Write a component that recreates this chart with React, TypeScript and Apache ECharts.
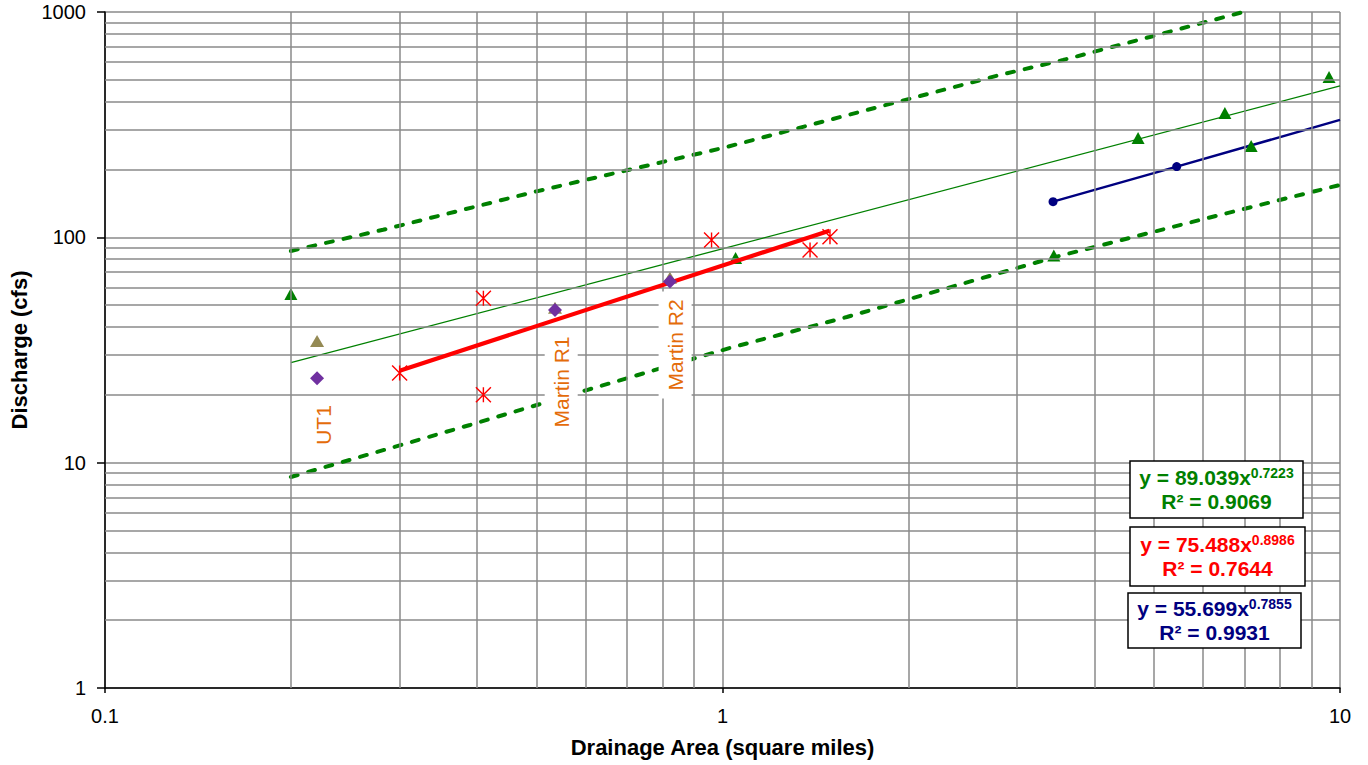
import { useEffect, useRef } from 'react';
import * as echarts from 'echarts';

const FONT = "'Liberation Sans', Arial, Helvetica, sans-serif";

// minor grid positions (log decades)
const xGridMinor = [0.2, 0.3, 0.4, 0.5, 0.6, 0.7, 0.8, 0.9, 2, 3, 4, 5, 6, 7, 8, 9];
const yGridMinor = [2, 3, 4, 5, 6, 7, 8, 9, 20, 30, 40, 50, 60, 70, 80, 90, 200, 300, 400, 500, 600, 700, 800, 900];

// Regional curve data (green triangles)
const regionalArea = [0.2, 1.05, 3.44, 4.71, 6.51, 7.18, 9.6];
const regionalQ = [56, 81, 83, 276, 356, 254, 515];

// Project reaches (tan triangles, purple diamonds)
const reachArea = [0.2205, 0.5355, 0.822];
const reachQTan = [34.7, 48.7, 66.2];
const reachQPurple = [23.7, 47.6, 63.6];

// Red asterisk data
const redArea = [0.3, 0.41, 0.41, 0.96, 1.386, 1.493];
const redQ = [25.0, 53.6, 20.0, 97.3, 87.9, 100.7];

// Blue dots
const blueArea = [3.43, 5.44];
const blueQ = [144, 206];

// Fit lines (power laws are straight in log-log)
const greenFitArea = [0.2, 10];
const greenFitQ = [27.8, 470];
const redFitArea = [0.3, 1.49];
const redFitQ = [25.6, 107];
const blueFitArea = [3.43, 5.44, 10];
const blueFitQ = [144, 206, 332];

// Prediction bands (dashed)
const upperArea = [0.2, 0.282, 0.5, 1, 2.81, 3.56, 4.92, 6.97];
const upperQ = [87, 108, 160, 249, 525, 612, 775, 1000];
const lowerArea = [0.2, 0.39, 0.603, 1.028, 1.59, 3.46, 5.93, 10];
const lowerQ = [8.64, 14.7, 21.0, 32.3, 44.3, 81.8, 119.4, 170.8];

// Reach labels
const reachNames = ['UT1', 'Martin R1', 'Martin R2'];
const reachLabelArea = [0.2255, 0.548, 0.838];
const reachLabelQ = [14.7, 22.8, 33.3];
const reachLabelBoxed = [false, true, true];

const fitEquations = [
  { coef: '89.039', exp: '0.7223', r2: '0.9069', color: '#008000' },
  { coef: '75.488', exp: '0.8986', r2: '0.7644', color: '#FF0000' },
  { coef: '55.699', exp: '0.7855', r2: '0.9931', color: '#000080' },
];

const zip = (a: number[], b: number[]) => a.map((v, i) => [v, b[i]]);
const fmt = (v: number) => String(parseFloat(Number(v).toPrecision(4)));

const GRID_COLOR = '#8a8a8a';

export default function App() {
  const ref = useRef<HTMLDivElement>(null);
  useEffect(() => {
    if (!ref.current) return;
    const chart = echarts.init(ref.current, undefined, { renderer: 'svg' });

    const boxes = [
      { x: 1130, y: 461, w: 173, h: 57 },
      { x: 1130, y: 527, w: 175, h: 59 },
      { x: 1128, y: 593, w: 173, h: 55 },
    ];
    const graphicEls: any[] = [];
    fitEquations.forEach((eq, i) => {
      const b = boxes[i];
      graphicEls.push({
        type: 'rect',
        shape: { x: b.x, y: b.y, width: b.w, height: b.h },
        style: { fill: '#fff', stroke: '#000', lineWidth: 1.5 },
        z: 100,
      });
      graphicEls.push({
        type: 'text',
        x: b.x + b.w / 2,
        y: b.y + b.h / 2,
        z: 101,
        style: {
          text: `{a|y = ${eq.coef}x}{s|${eq.exp}}\n{a|R² = ${eq.r2}}`,
          align: 'center',
          verticalAlign: 'middle',
          fill: eq.color,
          rich: {
            a: { fontSize: 21, fontWeight: 'bold', fontFamily: FONT, fill: eq.color, lineHeight: 24 },
            s: { fontSize: 14, fontWeight: 'bold', fontFamily: FONT, fill: eq.color, lineHeight: 14, verticalAlign: 'top' },
          },
        },
      });
    });

    const scatterBase = { itemStyle: { opacity: 1 }, emphasis: { disabled: true } };

    const option: any = {
      animation: false,
      backgroundColor: '#fff',
      textStyle: { fontFamily: FONT },
      grid: { left: 105, right: 28, top: 12, bottom: 77, containLabel: false },
      xAxis: {
        type: 'log',
        logBase: 10,
        min: 0.1,
        max: 10,
        name: 'Drainage Area (square miles)',
        nameLocation: 'middle',
        nameGap: 48,
        nameTextStyle: { fontSize: 22, fontWeight: 'bold', color: '#000', fontFamily: FONT },
        axisLine: { show: true, onZero: false, lineStyle: { color: '#000', width: 1.5 } },
        axisTick: { show: true, length: 5, lineStyle: { color: '#000', width: 1.5 } },
        axisLabel: { fontSize: 20, color: '#000', margin: 18, formatter: fmt, fontFamily: FONT },
        splitLine: { show: true, lineStyle: { color: GRID_COLOR, width: 1.5 } },
      },
      yAxis: {
        type: 'log',
        logBase: 10,
        min: 1,
        max: 1000,
        name: 'Discharge (cfs)',
        nameLocation: 'middle',
        nameGap: 71,
        nameTextStyle: { fontSize: 22, fontWeight: 'bold', color: '#000', fontFamily: FONT },
        axisLine: { show: true, onZero: false, lineStyle: { color: '#000', width: 1.5 } },
        axisTick: { show: true, length: 8, lineStyle: { color: '#000', width: 1.5 } },
        axisLabel: { fontSize: 20, color: '#000', margin: 19, formatter: fmt, fontFamily: FONT },
        splitLine: { show: true, lineStyle: { color: GRID_COLOR, width: 1.5 } },
      },
      series: [
        {
          type: 'scatter',
          z: 1,
          silent: true,
          symbolSize: 0,
          data: [[1, 10]],
          markLine: {
            silent: true,
            symbol: ['none', 'none'],
            label: { show: false },
            lineStyle: { color: GRID_COLOR, width: 1.5, type: 'solid', opacity: 1 },
            emphasis: { disabled: true },
            data: [
              ...xGridMinor.map((v) => ({ xAxis: v })),
              ...yGridMinor.map((v) => ({ yAxis: v })),
            ],
          },
        },
        {
          type: 'line',
          z: 3,
          data: zip(upperArea, upperQ),
          showSymbol: false,
          symbol: 'none',
          lineStyle: { color: '#008000', width: 4, type: [7, 11], cap: 'round' },
        },
        {
          type: 'line',
          z: 3,
          data: zip(lowerArea, lowerQ),
          showSymbol: false,
          symbol: 'none',
          lineStyle: { color: '#008000', width: 4, type: [7, 11], cap: 'round' },
        },
        {
          type: 'line',
          z: 3,
          data: zip(greenFitArea, greenFitQ),
          symbol: 'none',
          lineStyle: { color: '#008000', width: 1.3 },
        },
        {
          type: 'line',
          z: 3,
          data: zip(blueFitArea, blueFitQ),
          symbol: 'none',
          lineStyle: { color: '#000080', width: 2.5 },
        },
        {
          ...scatterBase,
          type: 'scatter',
          z: 4,
          data: zip(regionalArea, regionalQ),
          symbol: 'triangle',
          symbolSize: [13, 12],
          itemStyle: { color: '#008000', opacity: 1 },
        },
        {
          ...scatterBase,
          type: 'scatter',
          z: 4,
          data: zip(reachArea, reachQTan),
          symbol: 'triangle',
          symbolSize: [14, 12],
          itemStyle: { color: '#948A54', opacity: 1 },
        },
        {
          type: 'line',
          z: 5,
          data: zip(redFitArea, redFitQ),
          symbol: 'none',
          lineStyle: { color: '#FF0000', width: 4.2 },
        },
        {
          ...scatterBase,
          type: 'scatter',
          z: 6,
          data: zip(reachArea, reachQPurple),
          symbol: 'diamond',
          symbolSize: 14,
          itemStyle: { color: '#7030A0', opacity: 1 },
        },
        {
          ...scatterBase,
          type: 'scatter',
          z: 6,
          data: zip(redArea, redQ),
          symbol: 'path://M0,0L16,16M16,0L0,16M8,0L8,16',
          symbolSize: 15,
          itemStyle: { color: '#FF0000', borderColor: '#FF0000', borderWidth: 1.4, opacity: 1 },
        },
        {
          ...scatterBase,
          type: 'scatter',
          z: 6,
          data: zip(blueArea, blueQ),
          symbol: 'circle',
          symbolSize: 9,
          itemStyle: { color: '#000080', opacity: 1 },
        },
        {
          ...scatterBase,
          type: 'scatter',
          z: 7,
          silent: true,
          symbolSize: 0,
          data: reachNames.map((n, i) => ({
            name: n,
            value: [reachLabelArea[i], reachLabelQ[i]],
            label: reachLabelBoxed[i]
              ? { backgroundColor: '#ffffff', padding: [6, 8] }
              : { padding: [0, 0] },
          })),
          label: {
            show: true,
            position: 'inside',
            rotate: 90,
            fontSize: 21,
            color: '#E46C0A',
            opacity: 1,
            fontFamily: FONT,
            formatter: '{b}',
          },
        },
      ],
      graphic: { elements: graphicEls },
    };
    chart.setOption(option);
    return () => chart.dispose();
  }, []);
  return (
    <div
      ref={ref}
      style={{ position: 'fixed', left: 0, top: 0, width: 1368, height: 765, background: '#fff' }}
    />
  );
}
